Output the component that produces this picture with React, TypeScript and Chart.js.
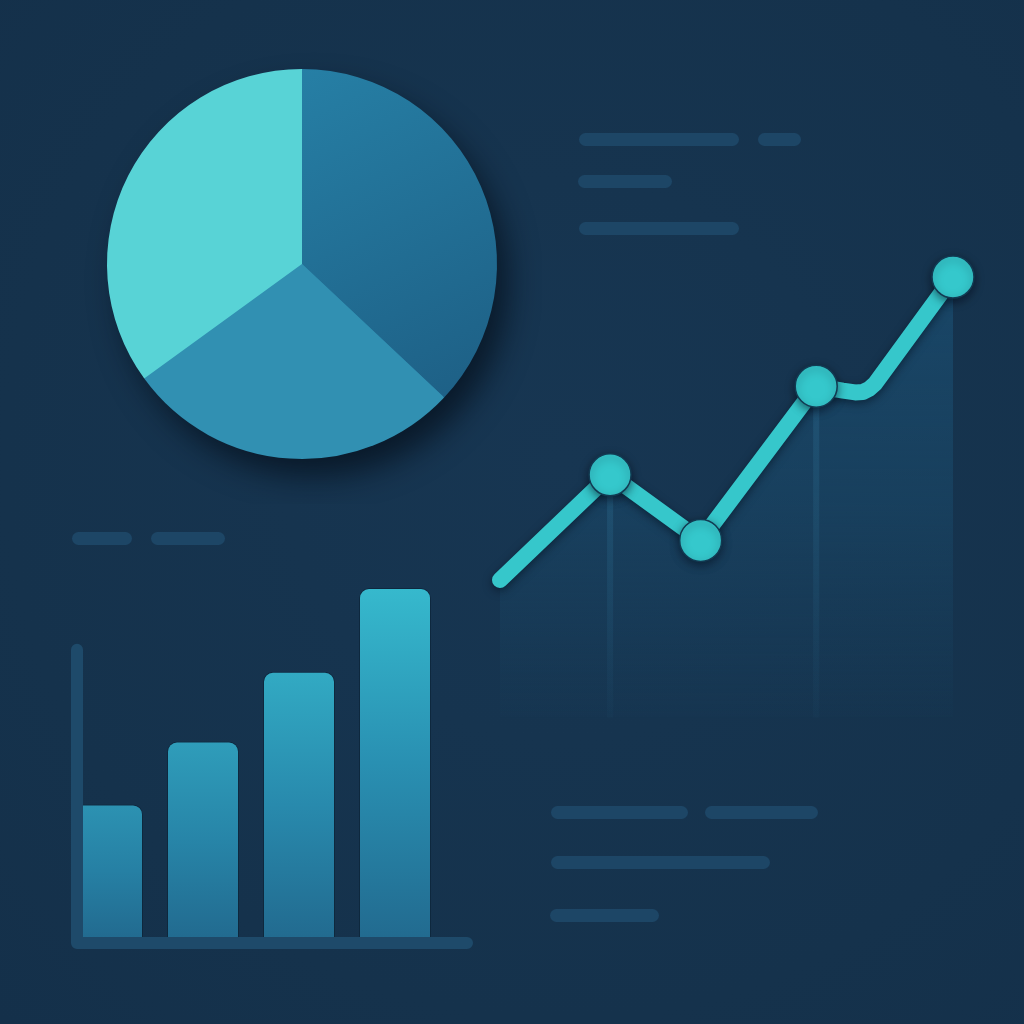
import { useEffect, useRef } from "react";
import { Chart, registerables, type Plugin } from "chart.js";

Chart.register(...registerables);

// pie: shares, clockwise from 12 o'clock
const pieLabels = ["Product A", "Product B", "Product C"];
const pieValues = [37, 28, 35];

// bars
const barLabels = ["Q1", "Q2", "Q3", "Q4"];
const barValues = [38, 56, 76, 100];
const barAxisTop = 84;

// line (x on a 0-100 scale, y on a 0-100 scale)
const lineX = [0, 24.3, 44.3, 69.8, 72.8, 75.7, 78.4, 80.1, 81.5, 82.8, 100];
const lineY = [31.2, 55.1, 40.2, 75.2, 74.7, 74.2, 73.8, 73.9, 74.6, 75.8, 100];
const markerIdx = [1, 2, 3, 10];
const dropIdx = [1, 3];

const BG = "#15324c";
const SKELETON = "#1d4666";

// text placeholder strokes [left, top, width]
const skeletonLines: [number, number, number][] = [
  [579, 133, 160],
  [758, 133, 43],
  [578, 175, 94],
  [579, 222, 160],
  [72, 532, 60],
  [151, 532, 74],
  [551, 806, 137],
  [705, 806, 113],
  [551, 856, 219],
  [550, 909, 109],
];

const mix = (a: number[], b: number[], t: number) =>
  `rgb(${a.map((v, i) => Math.round(v + (b[i] - v) * t)).join(",")})`;

const pieShadow: Plugin<"pie"> = {
  id: "pieShadow",
  beforeDatasetsDraw(chart) {
    const arc = chart.getDatasetMeta(0).data[0] as any;
    if (!arc) return;
    const { ctx } = chart;
    ctx.save();
    ctx.shadowColor = "rgba(4, 14, 26, 0.7)";
    ctx.shadowBlur = 30;
    ctx.shadowOffsetX = 12;
    ctx.shadowOffsetY = 18;
    ctx.fillStyle = "#2a86ab";
    ctx.beginPath();
    ctx.arc(arc.x, arc.y, arc.outerRadius - 1, 0, Math.PI * 2);
    ctx.fill();
    ctx.restore();
  },
};

const barAxes: Plugin<"bar"> = {
  id: "barAxes",
  afterDatasetsDraw(chart) {
    const { ctx, chartArea } = chart;
    const ys = chart.scales.y;
    const x0 = chartArea.left + 18;
    const yBase = chartArea.bottom + 6;
    ctx.save();
    ctx.strokeStyle = "#1e4a6a";
    ctx.lineWidth = 12;
    ctx.lineCap = "round";
    ctx.lineJoin = "round";
    ctx.beginPath();
    ctx.moveTo(x0, ys.getPixelForValue(barAxisTop) + 6);
    ctx.lineTo(x0, yBase);
    ctx.lineTo(chartArea.right + 24, yBase);
    ctx.stroke();
    ctx.restore();
  },
};

const lineDecor: Plugin<"line"> = {
  id: "lineDecor",
  beforeDatasetsDraw(chart) {
    const { ctx, chartArea } = chart;
    const xs = chart.scales.x;
    const ys = chart.scales.y;
    ctx.save();
    dropIdx.forEach((i) => {
      const x = xs.getPixelForValue(lineX[i]);
      const top = ys.getPixelForValue(lineY[i]);
      const g = ctx.createLinearGradient(0, top, 0, chartArea.bottom);
      g.addColorStop(0, "rgba(40, 100, 135, 0.45)");
      g.addColorStop(1, "rgba(40, 100, 135, 0.05)");
      ctx.strokeStyle = g;
      ctx.lineWidth = 6;
      ctx.beginPath();
      ctx.moveTo(x, top);
      ctx.lineTo(x, chartArea.bottom);
      ctx.stroke();
    });
    ctx.restore();
  },
  beforeDatasetDraw(chart) {
    const { ctx } = chart;
    ctx.save();
    ctx.shadowColor = "rgba(2, 12, 24, 0.5)";
    ctx.shadowBlur = 8;
    ctx.shadowOffsetY = 3;
  },
  afterDatasetDraw(chart) {
    chart.ctx.restore();
  },
};

function PieChart() {
  const ref = useRef<HTMLCanvasElement>(null);
  useEffect(() => {
    if (!ref.current) return;
    const chart = new Chart(ref.current, {
      type: "pie",
      plugins: [pieShadow],
      data: {
        labels: pieLabels,
        datasets: [{
          data: pieValues,
          backgroundColor: (c: any) => {
            const area = c.chart.chartArea;
            if (c.dataIndex === 0 && area) {
              const g = c.chart.ctx.createLinearGradient(area.left + area.width / 2, area.top, area.right, area.bottom);
              g.addColorStop(0, "#267fa5");
              g.addColorStop(1, "#1c5a80");
              return g;
            }
            return ["#23739a", "#3190b2", "#58d3d6"][c.dataIndex];
          },
          borderWidth: 0,
          hoverOffset: 0,
          offset: 0,
        }],
      },
      options: {
        responsive: false,
        animation: false,
        layout: { padding: 45 },
        plugins: { legend: { display: false }, tooltip: { enabled: false } },
      },
    });
    return () => chart.destroy();
  }, []);
  return (
    <canvas ref={ref} width={480} height={480}
      style={{ position: "absolute", left: 62, top: 24 }} />
  );
}

function BarChart() {
  const ref = useRef<HTMLCanvasElement>(null);
  useEffect(() => {
    if (!ref.current) return;
    const maxV = Math.max(...barValues);
    const chart = new Chart(ref.current, {
      type: "bar",
      plugins: [barAxes],
      data: {
        labels: barLabels,
        datasets: [{
          data: barValues,
          backgroundColor: (c: any) => {
            const area = c.chart.chartArea;
            if (!area) return "#2a8fb0";
            const v = barValues[c.dataIndex];
            const top = c.chart.scales.y.getPixelForValue(v);
            const g = c.chart.ctx.createLinearGradient(0, top, 0, area.bottom);
            const t = Math.max(0, (v - 38) / (maxV - 38));
            g.addColorStop(0, mix([44, 146, 178], [54, 185, 205], t));
            g.addColorStop(0.5, mix([38, 128, 164], [41, 144, 178], t));
            g.addColorStop(1, "#226b90");
            return g;
          },
          borderColor: "rgba(12, 36, 56, 0.7)",
          borderWidth: 1,
          borderRadius: { topLeft: 10, topRight: 10, bottomLeft: 0, bottomRight: 0 },
          borderSkipped: "bottom",
          barPercentage: 0.75,
          categoryPercentage: 1,
        }],
      },
      options: {
        responsive: false,
        animation: false,
        layout: { padding: { left: 19, right: 57, top: 28, bottom: 43 } },
        scales: {
          x: { display: false },
          y: { display: false, min: 0, max: 100 },
        },
        plugins: { legend: { display: false }, tooltip: { enabled: false } },
      },
    });
    return () => chart.destroy();
  }, []);
  return (
    <canvas ref={ref} width={460} height={420}
      style={{ position: "absolute", left: 40, top: 560 }} />
  );
}

function LineChart() {
  const ref = useRef<HTMLCanvasElement>(null);
  useEffect(() => {
    if (!ref.current) return;
    const chart = new Chart(ref.current, {
      type: "line",
      plugins: [lineDecor],
      data: {
        datasets: [{
          data: lineX.map((x, i) => ({ x, y: lineY[i] })),
          borderColor: "#36c7cb",
          borderWidth: 16,
          borderCapStyle: "round",
          borderJoinStyle: "round",
          tension: 0,
          fill: "origin",
          backgroundColor: (c: any) => {
            const area = c.chart.chartArea;
            if (!area) return "rgba(26,74,106,0.4)";
            const g = c.chart.ctx.createLinearGradient(0, area.top, 0, area.bottom + 10);
            g.addColorStop(0, "rgba(26, 74, 108, 0.85)");
            g.addColorStop(0.5, "rgba(26, 72, 104, 0.6)");
            g.addColorStop(1, "rgba(26, 70, 100, 0.05)");
            return g;
          },
          pointRadius: (c: any) => (markerIdx.includes(c.dataIndex) ? 21 : 0),
          pointBackgroundColor: "#35c8cc",
          pointBorderColor: "#123a52",
          pointBorderWidth: 1.5,
          pointHoverRadius: 0,
          clip: false,
        }],
      },
      options: {
        responsive: false,
        animation: false,
        layout: { padding: { left: 30, right: 47, top: 37, bottom: 20 } },
        scales: {
          x: { type: "linear", display: false, min: 0, max: 100 },
          y: { display: false, min: 0, max: 100 },
        },
        plugins: {
          legend: { display: false },
          tooltip: { enabled: false },
          filler: { drawTime: "beforeDatasetsDraw" } as any,
        },
      },
    });
    return () => chart.destroy();
  }, []);
  return (
    <canvas ref={ref} width={530} height={500}
      style={{ position: "absolute", left: 470, top: 240 }} />
  );
}

export default function App() {
  return (
    <div style={{
      position: "absolute", left: 0, top: 0, width: 1024, height: 1024,
      overflow: "hidden",
      background: `radial-gradient(circle at 55% 45%, #173652 0%, ${BG} 70%, #14304a 100%)`,
    }}>
      {skeletonLines.map(([x, y, w], i) => (
        <div key={i} style={{
          position: "absolute", left: x, top: y, width: w, height: 13,
          borderRadius: 7, background: SKELETON,
        }} />
      ))}
      <LineChart />
      <BarChart />
      <PieChart />
    </div>
  );
}
